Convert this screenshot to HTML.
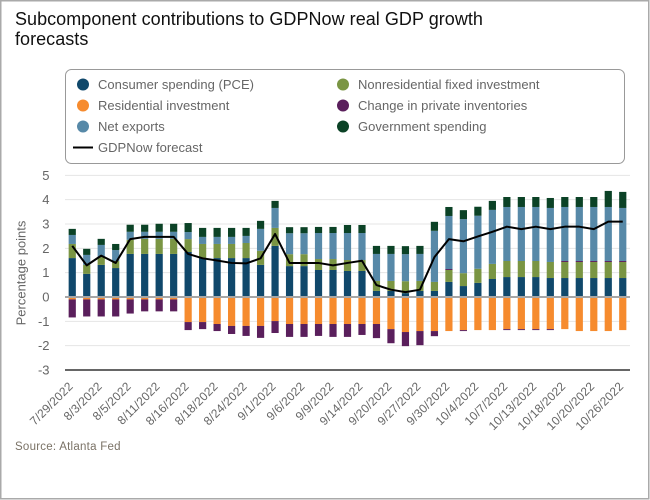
<!DOCTYPE html>
<html>
<head>
<meta charset="utf-8">
<title>Subcomponent contributions to GDPNow real GDP growth forecasts</title>
<style>
html,body{margin:0;padding:0;background:#fff;width:650px;height:500px;overflow:hidden}
svg{display:block;font-family:"Liberation Sans",sans-serif}
</style>
</head>
<body>
<svg id="chart" width="650" height="500" viewBox="0 0 650 500" xmlns="http://www.w3.org/2000/svg">
  <rect x="0.75" y="0.75" width="648" height="498" fill="#fff" stroke="#aaaaaa" stroke-width="1.5"/>
  <text font-size="18" fill="#111" letter-spacing="0.04">
    <tspan x="15" y="25">Subcomponent contributions to GDPNow real GDP growth</tspan>
    <tspan x="15" y="45">forecasts</tspan>
  </text>
  <g font-size="13" fill="#666" letter-spacing="0.03">
    <rect x="65.5" y="69.5" width="559" height="94" rx="6" fill="#fff" stroke="#999" stroke-width="1"/>
    <g><circle cx="83" cy="84.5" r="6" fill="#10486b"/><text x="98" y="89">Consumer spending (PCE)</text></g>
    <g><circle cx="83" cy="105.5" r="6" fill="#f68b2e"/><text x="98" y="110">Residential investment</text></g>
    <g><circle cx="83" cy="126.5" r="6" fill="#5789a8"/><text x="98" y="131">Net exports</text></g>
    <g><line x1="73" x2="93" y1="147.5" y2="147.5" stroke="#000" stroke-width="2"/><text x="98" y="152">GDPNow forecast</text></g>
    <g><circle cx="343" cy="84.5" r="6" fill="#7a9543"/><text x="358" y="89">Nonresidential fixed investment</text></g>
    <g><circle cx="343" cy="105.5" r="6" fill="#5a1f5c"/><text x="358" y="110">Change in private inventories</text></g>
    <g><circle cx="343" cy="126.5" r="6" fill="#0b4226"/><text x="358" y="131">Government spending</text></g>
  </g>
  <g id="grid"></g>
  <g id="bars"></g>
  <g id="axis"></g>
  <g id="line"></g>
  <g id="xlabels"></g>
  <text font-size="13" fill="#666" text-anchor="middle" transform="translate(25.5,273) rotate(-90)">Percentage points</text>
  <text x="15" y="450" font-size="11.5" fill="#7a7266" letter-spacing="0.25">Source: Atlanta Fed</text>
</svg>
<script>
const dates = ["7/29/2022","8/1/2022","8/3/2022","8/4/2022","8/5/2022","8/9/2022","8/11/2022","8/12/2022","8/16/2022","8/17/2022","8/18/2022","8/19/2022","8/24/2022","8/26/2022","9/1/2022","9/2/2022","9/6/2022","9/8/2022","9/9/2022","9/13/2022","9/14/2022","9/15/2022","9/20/2022","9/21/2022","9/27/2022","9/29/2022","9/30/2022","10/3/2022","10/4/2022","10/5/2022","10/7/2022","10/12/2022","10/13/2022","10/14/2022","10/18/2022","10/19/2022","10/20/2022","10/25/2022","10/26/2022"];
const yTicks = [5,4,3,2,1,0,-1,-2,-3];
const pce = [1.60,.95,1.32,1.19,1.77,1.77,1.77,1.77,1.85,1.60,1.60,1.60,1.60,1.32,2.10,1.27,1.27,1.11,1.11,1.07,1.07,.25,.25,.16,.25,.25,.62,.45,.58,.74,.82,.82,.82,.78,.78,.78,.78,.78,.78];
const nonres = [.58,.37,.33,.29,.58,.62,.62,.62,.53,.58,.58,.58,.62,.58,.74,.49,.49,.45,.45,.45,.45,.41,.41,.49,.41,.37,.49,.53,.58,.62,.66,.66,.66,.66,.66,.66,.66,.66,.66];
const residential = [-.1,-.1,-.1,-.1,-.1,-.1,-.1,-.1,-1.03,-1.03,-1.11,-1.19,-1.19,-1.19,-.99,-1.11,-1.11,-1.11,-1.11,-1.11,-1.11,-1.11,-1.32,-1.44,-1.40,-1.40,-1.40,-1.36,-1.36,-1.36,-1.32,-1.32,-1.32,-1.32,-1.32,-1.40,-1.40,-1.40,-1.36];
const inventories = [-.74,-.70,-.70,-.70,-.58,-.49,-.49,-.49,-.33,-.29,-.29,-.33,-.41,-.49,-.49,-.53,-.53,-.49,-.53,-.53,-.45,-.58,-.58,-.58,-.58,-.21,.04,-.04,0,0,-.04,-.04,-.04,-.04,.04,.04,.04,.04,.04];
const netExports = [.37,.41,.49,.45,.33,.29,.29,.29,.29,.29,.29,.29,.29,.90,.82,.86,.86,1.07,1.07,1.11,1.11,1.11,1.11,1.11,1.11,2.10,2.18,2.22,2.18,2.22,2.22,2.22,2.22,2.22,2.22,2.22,2.22,2.22,2.18];
const government = [.25,.25,.25,.25,.29,.29,.33,.33,.37,.37,.37,.37,.33,.33,.29,.25,.25,.25,.25,.33,.33,.33,.33,.33,.33,.37,.37,.37,.37,.37,.41,.41,.41,.41,.41,.41,.41,.66,.66];
const forecast = [2.1,1.3,1.7,1.4,2.38,2.47,2.47,2.47,1.77,1.59,1.5,1.4,1.38,1.59,2.59,1.4,1.4,1.4,1.3,1.4,1.49,.49,.3,.2,.3,1.64,2.38,2.29,2.49,2.68,2.89,2.79,2.89,2.79,2.89,2.89,2.79,3.1,3.1];

const NS = "http://www.w3.org/2000/svg";
const plotLeft = 65, plotRight = 630, zeroY = 297, unit = 24.33;
const yScale = v => zeroY - v * unit;
const step = (plotRight - plotLeft) / dates.length;
const xScale = i => plotLeft + step * (i + 0.5);
const barWidth = 7.2;
function mk(tag, attrs, parent){
  const el = document.createElementNS(NS, tag);
  for (const k in attrs) el.setAttribute(k, attrs[k]);
  parent.appendChild(el);
  return el;
}
const grid = document.getElementById('grid');
const axis = document.getElementById('axis');
yTicks.forEach(t => {
  const y = yScale(t);
  if (t !== 0 && t !== -3) {
    const g = mk('line', {x1:plotLeft, x2:plotRight, y1:y, y2:y, stroke:'#e4e4e4', 'stroke-width':1}, grid);
    
    
  }
  const lab = mk('text', {x:49.5, y:y+4.5, 'text-anchor':'end', 'font-size':13, fill:'#666'}, grid);
  lab.textContent = t;
  
  
});
const seriesList = [
  {key:'pce', vals:pce, color:'#10486b'},
  {key:'nonres', vals:nonres, color:'#7a9543'},
  {key:'residential', vals:residential, color:'#f68b2e'},
  {key:'inventories', vals:inventories, color:'#5a1f5c'},
  {key:'net-exports', vals:netExports, color:'#5789a8'},
  {key:'government', vals:government, color:'#0b4226'}
];
const bars = document.getElementById('bars');
dates.forEach((d, i) => {
  let posBase = 0, negBase = 0;
  seriesList.forEach(s => {
    const v = s.vals[i];
    if (!v) return;
    let a, b;
    if (v > 0) { a = posBase; b = posBase + v; posBase = b; }
    else { a = negBase; b = negBase + v; negBase = b; }
    const top = Math.min(yScale(a), yScale(b));
    const r = mk('rect', {x:xScale(i)-barWidth/2, y:top, width:barWidth, height:Math.abs(yScale(a)-yScale(b)), fill:s.color}, bars);
    
    
  });
});
const zero = mk('line', {x1:plotLeft, x2:plotRight, y1:yScale(0), y2:yScale(0), stroke:'#a6a6a6', 'stroke-width':2}, axis);


const base = mk('line', {x1:plotLeft, x2:plotRight, y1:yScale(-3), y2:yScale(-3), stroke:'#666', 'stroke-width':2}, axis);


const lineG = document.getElementById('line');
const fl = mk('polyline', {points:forecast.map((v,i)=>xScale(i)+','+yScale(v)).join(' '), fill:'none', stroke:'#000', 'stroke-width':2, 'stroke-linejoin':'round'}, lineG);


const xl = document.getElementById('xlabels');
dates.forEach((d, i) => {
  if (i % 2) return;
  const x = xScale(i) + 1.5, y = 387;
  const t = mk('text', {x:x, y:y, 'text-anchor':'end', 'font-size':12, 'letter-spacing':0.2, fill:'#666', transform:'rotate(-45 '+x+' '+y+')'}, xl);
  t.textContent = d;
  
  
});
</script>
</body>
</html>
